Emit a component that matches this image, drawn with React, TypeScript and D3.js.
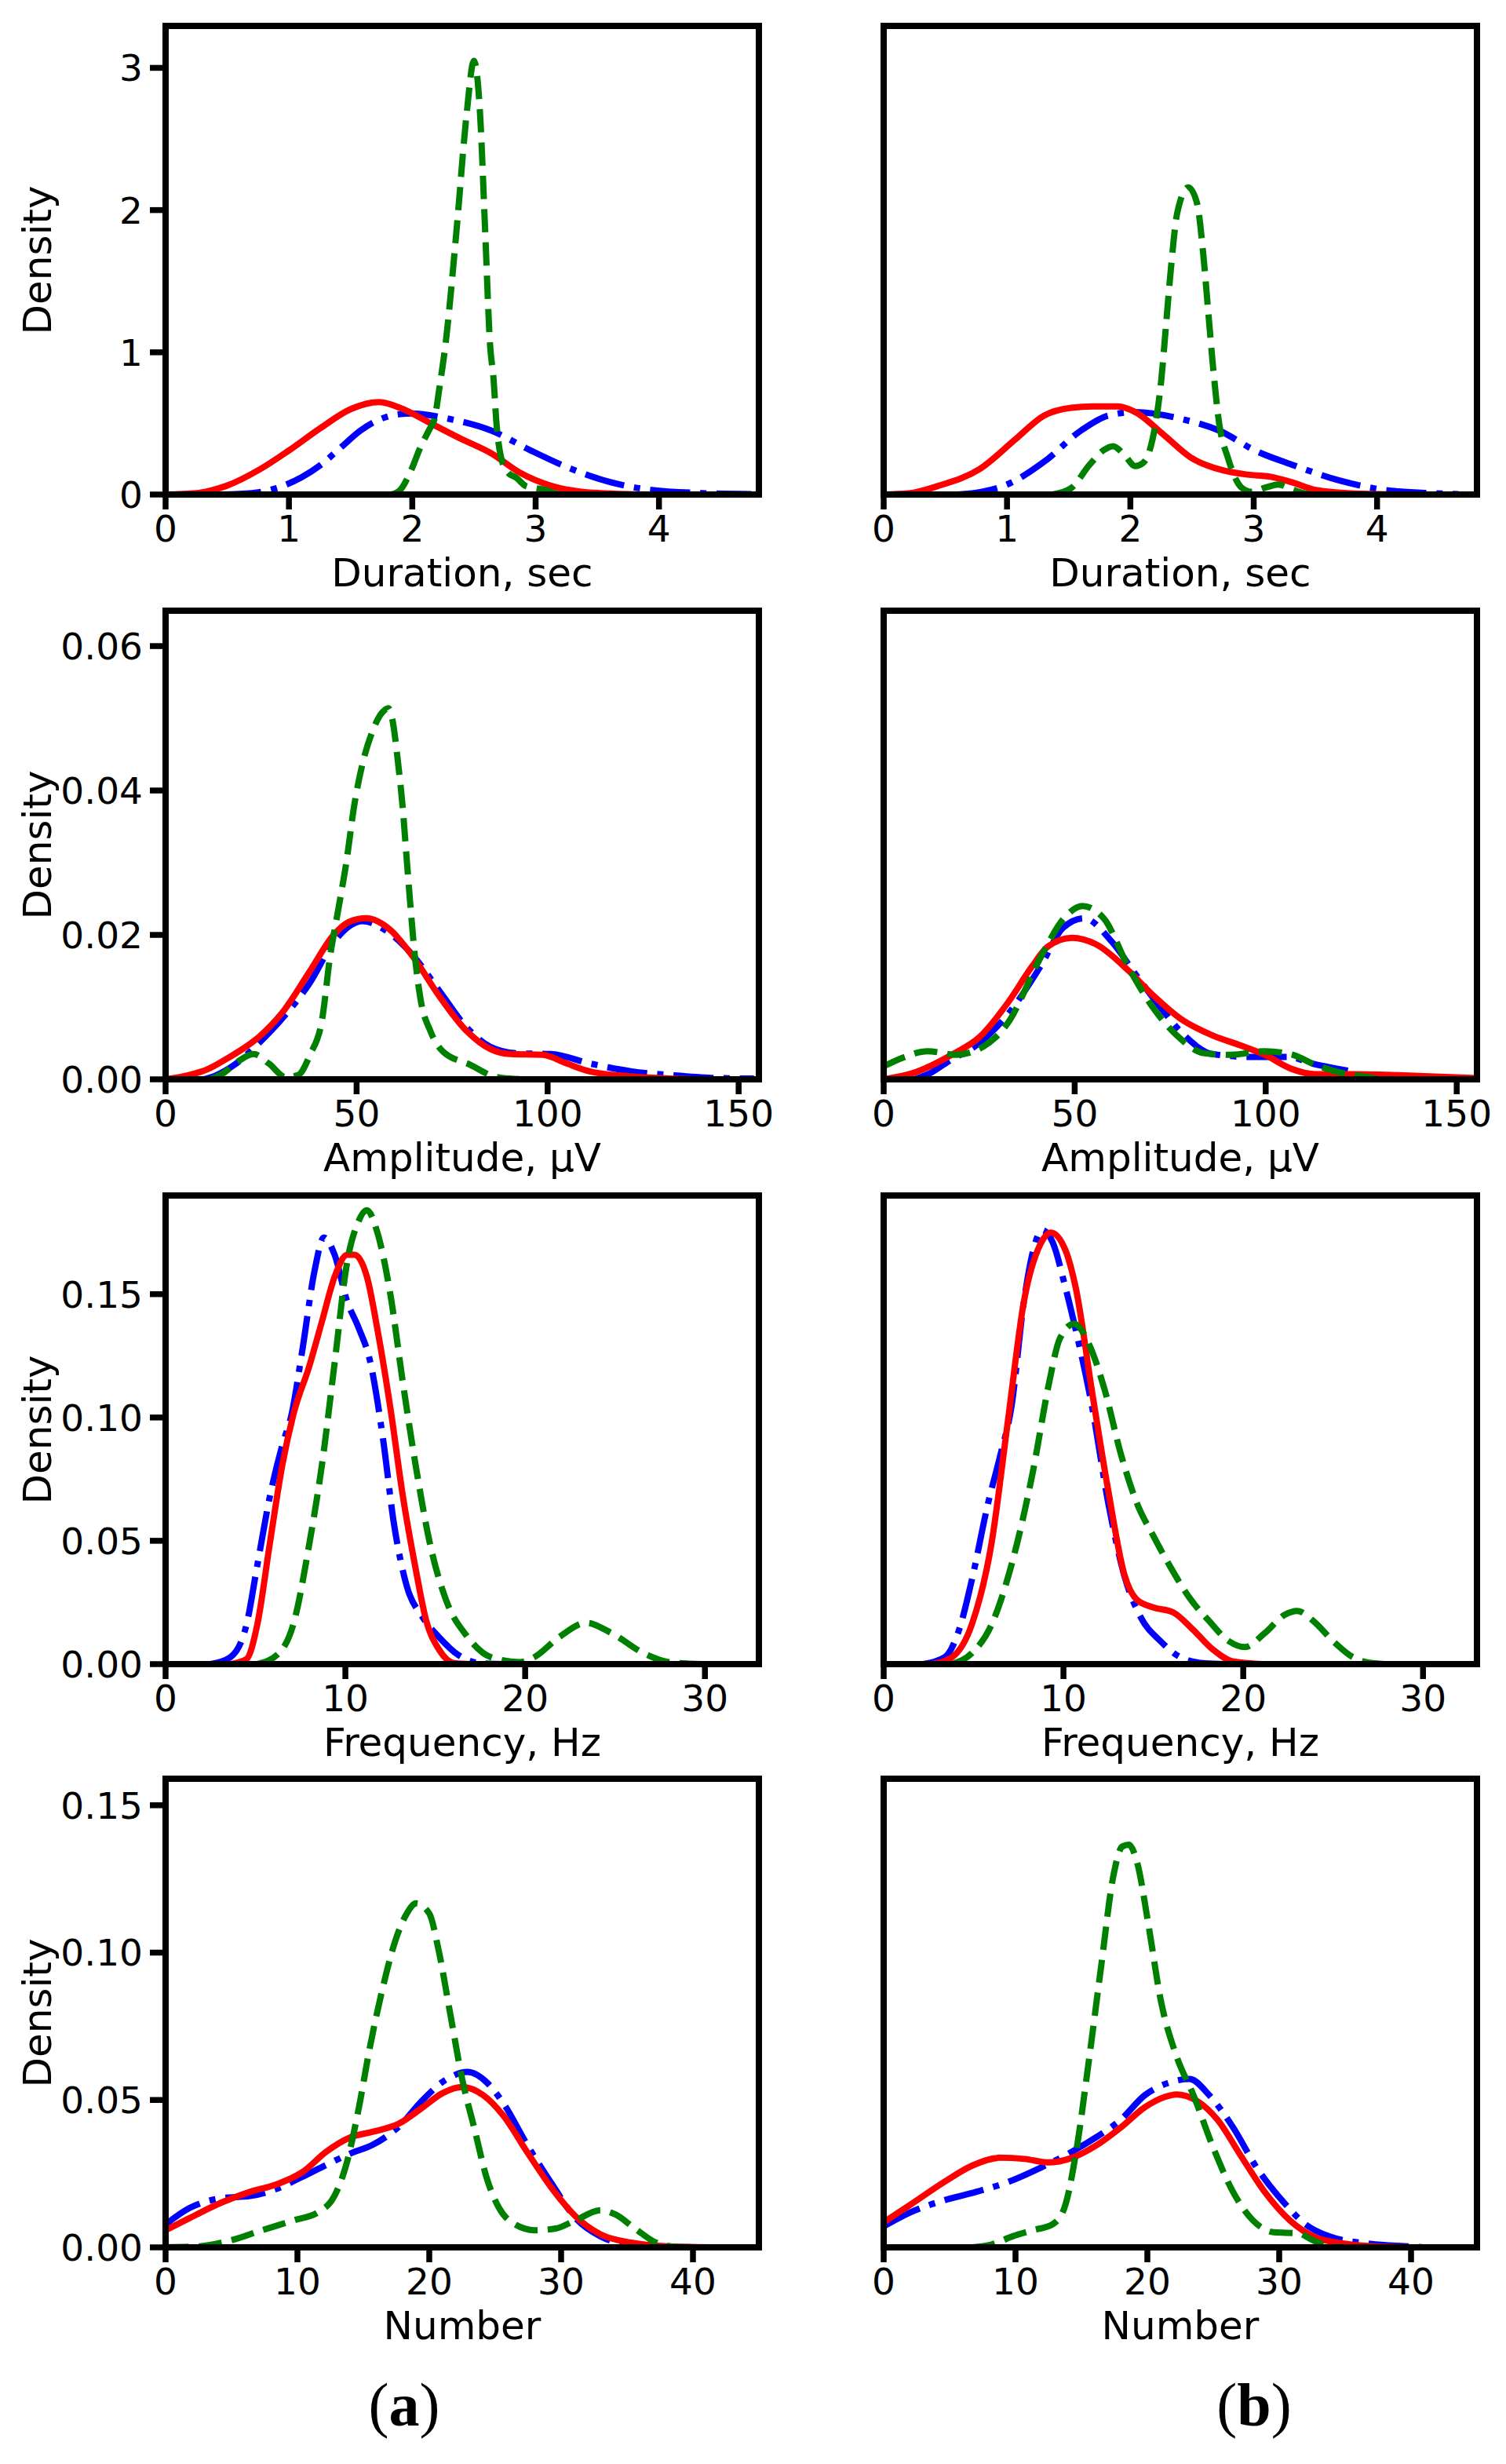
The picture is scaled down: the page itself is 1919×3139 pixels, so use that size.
import * as d3 from "d3";

// density curves, [x, density]
// column (a) and (b), rows: duration, amplitude, frequency, number
const durationA_blue = [[0.45,0],[0.7,0.01],[0.9,0.045],[1.1,0.12],[1.26,0.21],[1.42,0.33],[1.58,0.45],[1.83,0.555],[1.99,0.57],[2.31,0.53],[2.64,0.45],[2.96,0.31],[3.29,0.18],[3.61,0.086],[3.94,0.032],[4.35,0.01],[4.75,0.003]];
const durationA_red = [[0,0],[0.25,0.01],[0.49,0.06],[0.77,0.18],[1.0,0.31],[1.26,0.47],[1.5,0.6],[1.73,0.65],[1.9,0.61],[2.15,0.5],[2.4,0.39],[2.64,0.29],[2.88,0.15],[3.13,0.06],[3.37,0.02],[3.74,0.003],[4.0,0]];
const durationA_green = [[1.83,0],[1.9,0.03],[1.98,0.15],[2.07,0.34],[2.14,0.46],[2.18,0.53],[2.22,0.75],[2.27,1.06],[2.36,1.87],[2.44,2.67],[2.5,3.05],[2.55,2.67],[2.59,1.87],[2.63,1.06],[2.66,0.8],[2.68,0.53],[2.72,0.26],[2.78,0.15],[2.84,0.12],[2.92,0.06],[3.0,0.045],[3.09,0.03],[3.15,0.01],[3.2,0]];

const durationB_blue = [[0.6,0],[0.8,0.02],[1.0,0.07],[1.3,0.23],[1.6,0.45],[1.82,0.555],[2.04,0.58],[2.42,0.53],[2.72,0.45],[3.01,0.31],[3.31,0.21],[3.69,0.1],[4.06,0.032],[4.43,0.01],[4.66,0.003]];
const durationB_red = [[0,0],[0.2,0.008],[0.44,0.06],[0.78,0.18],[1.07,0.39],[1.3,0.555],[1.52,0.61],[1.7,0.62],[1.9,0.62],[2.04,0.58],[2.27,0.42],[2.49,0.26],[2.75,0.17],[2.95,0.14],[3.13,0.126],[3.31,0.086],[3.5,0.032],[3.87,0.005],[4.2,0]];
const durationB_green = [[1.37,0],[1.52,0.045],[1.67,0.21],[1.78,0.31],[1.86,0.34],[1.95,0.28],[2.04,0.2],[2.1,0.22],[2.16,0.32],[2.21,0.53],[2.25,0.8],[2.29,1.2],[2.33,1.6],[2.38,1.98],[2.47,2.16],[2.54,2.05],[2.59,1.7],[2.63,1.3],[2.67,0.9],[2.72,0.5],[2.79,0.26],[2.9,0.05],[2.98,0.02],[3.1,0.05],[3.2,0.07],[3.3,0.04],[3.4,0.01],[3.46,0]];

const amplitudeA_blue = [[10,0],[13,0.0005],[18,0.002],[24,0.0048],[30.5,0.0084],[37.8,0.0134],[44,0.019],[51.5,0.0219],[58,0.0205],[65,0.017],[72,0.012],[78.8,0.0072],[85,0.0045],[92,0.0036],[100.8,0.0035],[111,0.0022],[122,0.0011],[132,0.0006],[143,0.0002],[154,0.0001]];
const amplitudeA_red = [[0,0],[6.3,0.0006],[11,0.0014],[16.8,0.0031],[21,0.0045],[24.5,0.0059],[30.5,0.0092],[37.8,0.015],[44,0.02],[48,0.0218],[52.5,0.0223],[58.8,0.0207],[65,0.0168],[71.4,0.0117],[78.8,0.0067],[85,0.0042],[90.3,0.0035],[98.7,0.0034],[105,0.0022],[111,0.0011],[122,0.0004],[132,0.0001],[138,0]];
const amplitudeA_green = [[11.5,0],[15,0.0008],[19,0.0025],[23,0.0035],[27,0.0022],[31.5,0.0003],[34.7,0.0006],[37.8,0.0034],[41,0.0084],[43,0.0168],[45.2,0.0235],[47.3,0.03],[49.4,0.038],[51.5,0.0436],[54,0.048],[56.7,0.0508],[58.3,0.0514],[59.3,0.05],[60.9,0.0436],[62,0.038],[63,0.0313],[64,0.0246],[65.1,0.0179],[66.7,0.0112],[69.3,0.0067],[72.5,0.0039],[79.8,0.002],[86,0.0004],[90,0.0001],[95,0]];

const amplitudeB_blue = [[8,0],[12,0.0008],[17,0.0025],[25,0.005],[32.5,0.009],[41,0.0156],[47,0.021],[52.4,0.0223],[59.8,0.019],[66,0.0145],[72.4,0.01],[78.7,0.0061],[86,0.0035],[96.6,0.0031],[106,0.0031],[112,0.0022],[121.5,0.0012]];
const amplitudeB_red = [[0,0],[7.3,0.0008],[17.8,0.0034],[25.2,0.0059],[32.5,0.0106],[38.8,0.0156],[43,0.0184],[49.3,0.0196],[55.6,0.0187],[64,0.0151],[70.4,0.0117],[77.7,0.0084],[86,0.0061],[93.4,0.0047],[99.7,0.0034],[107,0.0014],[113,0.0007],[122.8,0.0007],[133,0.0006],[143,0.0004],[154,0.0002]];
const amplitudeB_green = [[0,0.0018],[5,0.003],[11.5,0.0039],[18.9,0.0034],[26,0.0045],[32.5,0.0078],[41,0.0168],[47.2,0.0223],[52,0.024],[57.6,0.0223],[64,0.0156],[70.4,0.01],[76.7,0.0061],[84,0.0036],[91,0.0034],[99.7,0.0039],[107,0.0034],[113,0.002],[120.6,0.0008],[128,0.0002],[130,0]];

const frequencyA_blue = [[2.5,0],[3.6,0.0028],[4.5,0.016],[5.1,0.04],[5.8,0.068],[6.5,0.089],[7.0,0.101],[7.6,0.127],[8.3,0.16],[8.8,0.173],[9.4,0.166],[10.1,0.147],[10.7,0.137],[11.4,0.122],[12.1,0.091],[12.7,0.057],[13.4,0.032],[14.3,0.019],[15.2,0.011],[16.3,0.0036],[17.6,0.0003],[19,0]];
const frequencyA_red = [[3.6,0],[4.5,0.002],[5.1,0.016],[5.8,0.049],[6.5,0.081],[7.1,0.101],[8.0,0.121],[8.7,0.139],[9.4,0.157],[10.1,0.166],[10.5,0.166],[11.2,0.157],[11.8,0.135],[12.5,0.104],[13.2,0.068],[13.9,0.039],[14.5,0.0175],[15.2,0.006],[16.1,0.0003],[17,0]];
const frequencyA_green = [[5.1,0],[6.3,0.0044],[7.1,0.016],[8.0,0.049],[8.7,0.081],[9.4,0.122],[10.1,0.163],[10.7,0.179],[11.2,0.184],[11.8,0.1745],[12.5,0.15],[13.2,0.114],[13.9,0.081],[14.7,0.049],[15.6,0.026],[16.8,0.011],[18.1,0.0028],[19.7,0.0008],[20.5,0.0028],[21.9,0.011],[23.4,0.0167],[24.8,0.0126],[26.6,0.0044],[28.1,0.0007],[30,0]];

const frequencyB_blue = [[2.2,0],[3.4,0.0028],[4.2,0.014],[4.9,0.034],[5.8,0.065],[6.5,0.085],[7.1,0.104],[7.8,0.147],[8.4,0.17],[8.8,0.176],[9.4,0.171],[10.1,0.153],[10.7,0.135],[11.6,0.104],[12.5,0.065],[13.4,0.0355],[14.3,0.019],[15.4,0.0093],[16.5,0.0028],[17.9,0.0003],[19,0]];
const frequencyB_red = [[2.7,0],[3.8,0.0028],[4.9,0.016],[6.0,0.049],[6.9,0.098],[7.8,0.147],[8.7,0.17],[9.3,0.175],[10.1,0.168],[10.7,0.152],[11.6,0.11],[12.5,0.07],[13.4,0.036],[14.1,0.026],[15.0,0.023],[16.1,0.021],[17.2,0.014],[18.3,0.006],[19.4,0.0011],[21,0]];
const frequencyB_green = [[3.8,0],[4.9,0.0044],[6.0,0.016],[7.1,0.04],[8.3,0.078],[9.2,0.114],[9.8,0.132],[10.6,0.138],[11.4,0.13],[12.3,0.111],[13.2,0.085],[14.1,0.065],[15.0,0.052],[15.9,0.04],[17.0,0.027],[18.1,0.0175],[19.2,0.0093],[20.1,0.0069],[21.2,0.0126],[22.3,0.02],[23.0,0.0216],[23.9,0.0175],[25.0,0.0093],[26.1,0.0028],[27.3,0.0003],[28,0]];

const numberA_blue = [[0,0.0078],[1.8,0.0133],[4.3,0.0167],[6.4,0.0174],[8.5,0.02],[10.4,0.024],[12.2,0.028],[14,0.0318],[15.8,0.035],[17.7,0.041],[19.5,0.05],[21.3,0.057],[22.9,0.0595],[24.4,0.0558],[25.6,0.049],[27.4,0.035],[29.3,0.0215],[31.1,0.0099],[33,0.0037],[35.3,0.001],[40,0]];
const numberA_red = [[0,0.0058],[1.8,0.0099],[4.3,0.0153],[6.4,0.0188],[8.5,0.0215],[10.4,0.0256],[12.2,0.0325],[14,0.0373],[15.8,0.0393],[17.7,0.042],[19.5,0.0475],[21,0.0523],[22.5,0.0544],[24.1,0.0516],[25.6,0.0448],[27.4,0.0325],[29.3,0.02],[31.1,0.0105],[33,0.0044],[35.3,0.0016],[38.4,0.0003],[43,0]];
const numberA_green = [[0,0],[2.4,0.0003],[4.9,0.0023],[7.3,0.0058],[9.75,0.0092],[11.6,0.012],[12.8,0.0174],[13.7,0.028],[14.6,0.046],[15.5,0.068],[16.5,0.0886],[17.4,0.1037],[18.3,0.1133],[19.0,0.1167],[20,0.1133],[20.7,0.101],[21.6,0.079],[22.5,0.057],[23.4,0.0407],[24.4,0.0229],[25.3,0.0133],[26.5,0.0078],[28,0.0058],[29.6,0.0064],[31.1,0.0092],[33,0.0126],[34.1,0.0112],[35.6,0.0064],[37.2,0.0016],[38.4,0.0003],[40,0]];

const numberB_blue = [[0,0.0071],[2.1,0.012],[4.6,0.016],[7,0.0188],[9.45,0.0222],[11.9,0.027],[14.3,0.0325],[16.1,0.0373],[18,0.0434],[19.8,0.0516],[21.6,0.0558],[23.2,0.0571],[24.7,0.0516],[26.5,0.0407],[28.3,0.027],[30.2,0.016],[32,0.0078],[33.8,0.0037],[36.9,0.0012],[39.9,0.0003],[41,0]];
const numberB_red = [[0,0.0085],[2.1,0.0147],[4.6,0.0222],[6.7,0.0277],[8.8,0.0304],[10.7,0.03],[12.5,0.0288],[14.3,0.0304],[16.1,0.0345],[18,0.0407],[19.8,0.0475],[21.3,0.051],[22.2,0.0519],[23.8,0.0496],[25.3,0.0434],[27.1,0.031],[28.9,0.0188],[30.8,0.0092],[32.6,0.0037],[35,0.0012],[37.5,0.0003],[41,0]];
const numberB_green = [[6.7,0],[8.2,0.001],[9.75,0.0037],[11.3,0.0058],[12.8,0.0078],[13.7,0.0133],[14.6,0.0325],[15.5,0.0612],[16.5,0.0955],[17.4,0.1255],[18.1,0.136],[18.6,0.1366],[19.2,0.131],[20.1,0.109],[21,0.0842],[22.2,0.065],[23.5,0.0516],[25,0.0338],[26.5,0.0188],[28,0.0092],[29.6,0.0051],[31.4,0.0048],[32.6,0.0023],[33.8,0.0003],[35,0]];

// ticks and labels
const durationTicksX = [0, 1, 2, 3, 4];
const durationTicksY = [0, 1, 2, 3];
const amplitudeTicksX = [0, 50, 100, 150];
const amplitudeTicksY = [0, 0.02, 0.04, 0.06];
const frequencyTicksX = [0, 10, 20, 30];
const frequencyTicksY = [0, 0.05, 0.1, 0.15];
const numberTicksX = [0, 10, 20, 30, 40];
const numberTicksY = [0, 0.05, 0.1, 0.15];
const xLabels = ["Duration, sec", "Amplitude, \u03bcV", "Frequency, Hz", "Number"];
const panelLetters = ["a", "b"];

const W = 1919;
const H = 3139;
const LEFTS = [211, 1126];
const TOPS = [33, 778, 1523, 2266];
const PW = 756;
const PH = 597;
const LW = 8;
const FONT = "DejaVu Sans";

const rows = [
  { xMax: 4.81, yMax: 3.295, xt: durationTicksX, yt: durationTicksY, fmt: d3.format("d"),
    a: [durationA_blue, durationA_red, durationA_green], b: [durationB_blue, durationB_red, durationB_green] },
  { xMax: 155.3, yMax: 0.0649, xt: amplitudeTicksX, yt: amplitudeTicksY, fmt: d3.format(".2f"),
    a: [amplitudeA_blue, amplitudeA_red, amplitudeA_green], b: [amplitudeB_blue, amplitudeB_red, amplitudeB_green] },
  { xMax: 33.0, yMax: 0.19, xt: frequencyTicksX, yt: frequencyTicksY, fmt: d3.format(".2f"),
    a: [frequencyA_blue, frequencyA_red, frequencyA_green], b: [frequencyB_blue, frequencyB_red, frequencyB_green] },
  { xMax: 45.0, yMax: 0.159, xt: numberTicksX, yt: numberTicksY, fmt: d3.format(".2f"),
    a: [numberA_blue, numberA_red, numberA_green], b: [numberB_blue, numberB_red, numberB_green] },
];

const styles = [
  { color: "#0000ff", dash: [6.4 * LW, 1.6 * LW, 1 * LW, 1.6 * LW].join(",") },
  { color: "#ff0000", dash: null },
  { color: "#008000", dash: [3.7 * LW, 1.6 * LW].join(",") },
];

function Panel({ row, ri, col }) {
  const left = LEFTS[col];
  const top = TOPS[ri];
  const x = d3.scaleLinear().domain([0, row.xMax]).range([left, left + PW]);
  const y = d3.scaleLinear().domain([0, row.yMax]).range([top + PH, top]);
  const line = d3.line().x(d => x(d[0])).y(d => y(d[1])).curve(d3.curveMonotoneX);
  const series = col === 0 ? row.a : row.b;
  const clipId = `clip-${ri}-${col}`;
  const bottom = top + PH;
  return (
    <g>
      <clipPath id={clipId}>
        <rect x={left} y={top} width={PW} height={PH} />
      </clipPath>
      <g clipPath={`url(#${clipId})`}>
        {series.map((s, i) => (
          <path key={i} d={line(s)} fill="none" stroke={styles[i].color} strokeWidth={LW}
            strokeDasharray={styles[i].dash || undefined}
            strokeLinecap={styles[i].dash ? "butt" : "square"} strokeLinejoin="round" />
        ))}
      </g>
      <rect x={left} y={top} width={PW} height={PH} fill="none" stroke="#000" strokeWidth={8} />
      {row.xt.map(t => (
        <g key={"x" + t}>
          <line x1={x(t)} x2={x(t)} y1={bottom} y2={bottom + 19} stroke="#000" strokeWidth={7.5} />
          <text x={x(t)} y={bottom + 60} textAnchor="middle" fontFamily={FONT} fontSize={47}>{t}</text>
        </g>
      ))}
      <text x={left + PW / 2} y={bottom + 117} textAnchor="middle" fontFamily={FONT} fontSize={50}>{xLabels[ri]}</text>
      {col === 0 && row.yt.map(t => (
        <g key={"y" + t}>
          <line x1={left - 20} x2={left} y1={y(t)} y2={y(t)} stroke="#000" strokeWidth={7.5} />
          <text x={left - 29} y={y(t)} dy="0.36em" textAnchor="end" fontFamily={FONT} fontSize={47}>{row.fmt(t)}</text>
        </g>
      ))}
      {col === 0 && (
        <text transform={`translate(65,${top + PH / 2}) rotate(-90)`} textAnchor="middle" fontFamily={FONT} fontSize={50}>Density</text>
      )}
    </g>
  );
}

export default function App() {
  return (
    <svg width={W} height={H} style={{ position: "absolute", left: 0, top: 0, background: "#fff" }}>
      <rect width={W} height={H} fill="#fff" />
      {rows.map((row, ri) => [0, 1].map(col => <Panel key={ri + "-" + col} row={row} ri={ri} col={col} />))}
      {panelLetters.map((l, i) => (
        <text key={l} x={i === 0 ? 515 : 1598} y={3090} textAnchor="middle" fontFamily="Liberation Serif" fontSize={78}>
          (<tspan fontWeight="bold">{l}</tspan>)
        </text>
      ))}
    </svg>
  );
}
